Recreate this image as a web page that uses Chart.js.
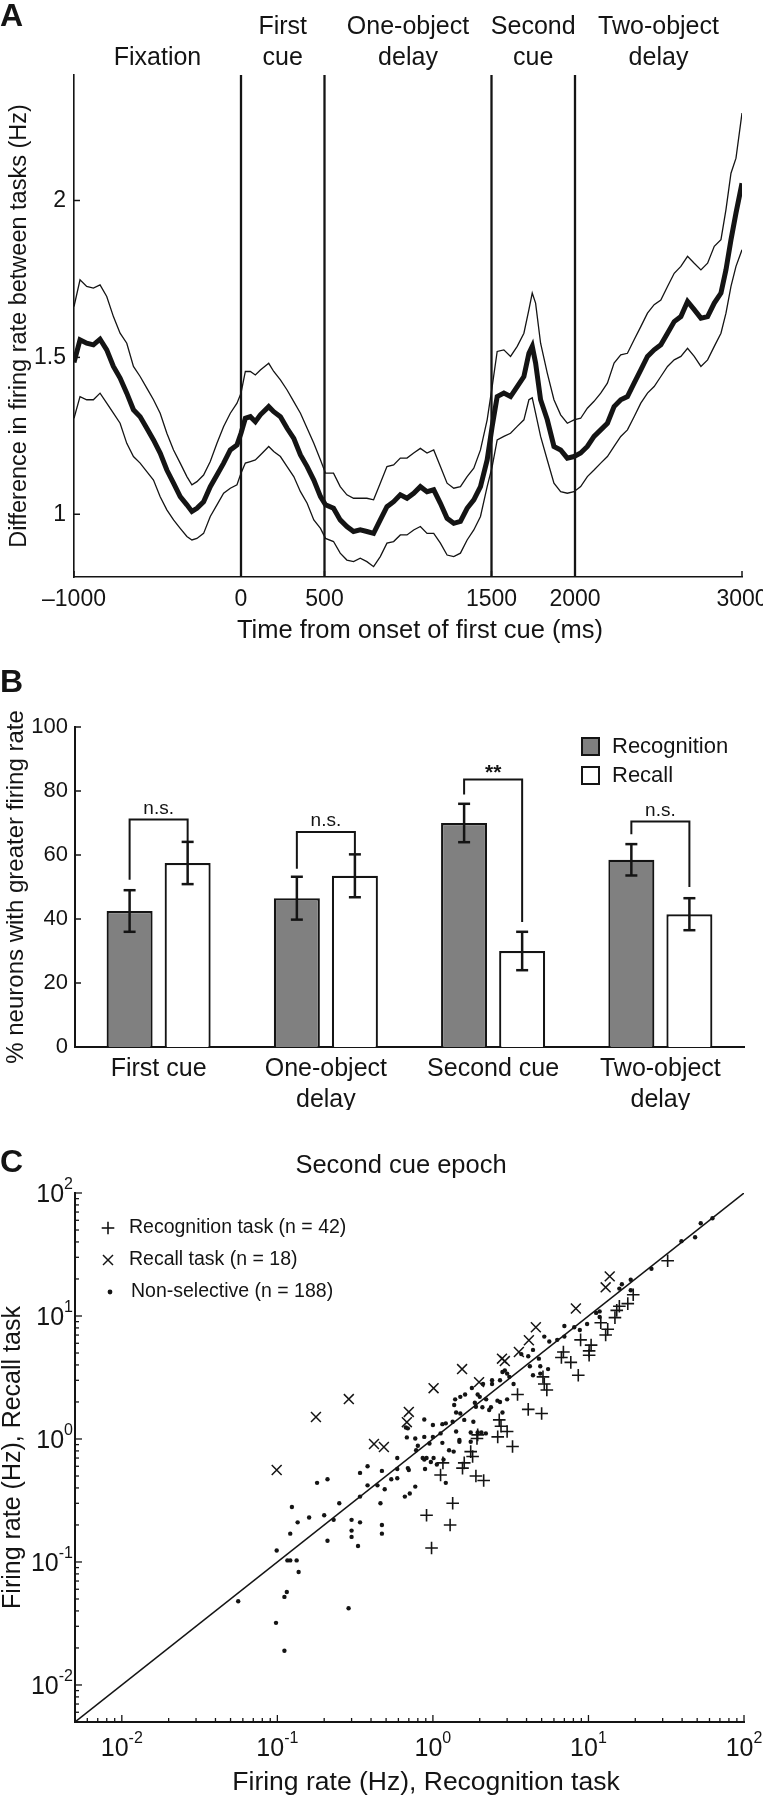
<!DOCTYPE html>
<html>
<head>
<meta charset="utf-8">
<script src="https://cdn.jsdelivr.net/npm/chart.js@4/dist/chart.umd.min.js"></script>
<style>
  body { margin: 0; background: #fff; }
  #page { position: relative; width: 763px; height: 1800px; }
  canvas { position: absolute; left: 0; }
</style>
</head>
<body>
<div id="page">
  <canvas id="chartA" width="763" height="650" style="top:0"></canvas>
  <canvas id="chartB" width="763" height="470" style="top:640px"></canvas>
  <canvas id="chartC" width="763" height="690" style="top:1110px"></canvas>
</div>
<script>
// ---- panel A: difference in firing rate over the trial ----
const timeMs = [-1000, -964, -924, -884, -844, -804, -764, -724, -684, -644, -604, -564, -524, -484, -444, -404, -364, -324, -294, -264,
  -224, -184, -144, -104, -64, -24, 0, 26, 56, 86, 116, 166, 196, 236, 276, 316, 356, 396, 436, 476, 506,
  554, 594, 634, 674, 714, 754, 794, 834, 874, 914, 954, 994, 1034, 1074, 1114, 1154, 1194, 1234, 1274, 1314, 1354, 1394, 1434, 1474,
  1504, 1534, 1574, 1614, 1654, 1694, 1724, 1744, 1764, 1794,
  1834, 1874, 1914, 1954, 1994, 2034, 2074, 2114, 2154, 2194, 2234, 2274, 2314, 2354, 2394, 2434, 2474, 2514, 2554, 2594, 2634, 2674,
  2714, 2754, 2794, 2834, 2874, 2904, 2934, 2964, 3000];
const meanDiff = [1.484, 1.556, 1.545, 1.540, 1.558, 1.524, 1.471, 1.434, 1.386, 1.333, 1.311, 1.274, 1.237, 1.195, 1.141, 1.099, 1.056, 1.030, 1.009, 1.019,
  1.040, 1.088, 1.125, 1.163, 1.205, 1.221, 1.258, 1.306, 1.311, 1.295, 1.317, 1.343, 1.327, 1.311, 1.274, 1.242, 1.189, 1.152, 1.109, 1.056, 1.030,
  1.019, 0.982, 0.961, 0.945, 0.950, 0.945, 0.939, 0.982, 1.024, 1.040, 1.062, 1.051, 1.067, 1.088, 1.072, 1.078, 1.035, 0.987, 0.971, 0.977, 1.019, 1.046, 1.088, 1.173,
  1.280, 1.375, 1.386, 1.375, 1.407, 1.439, 1.513, 1.535, 1.482, 1.365,
  1.301, 1.216, 1.205, 1.179, 1.184, 1.195, 1.216, 1.248, 1.269, 1.290, 1.343, 1.365, 1.375, 1.418, 1.460, 1.503, 1.524, 1.540, 1.577, 1.614, 1.630, 1.678,
  1.652, 1.625, 1.630, 1.673, 1.705, 1.779, 1.875, 1.960, 2.055];
const upperDiff = [1.662, 1.747, 1.726, 1.721, 1.731, 1.694, 1.630, 1.577, 1.545, 1.471, 1.439, 1.402, 1.365, 1.322, 1.258, 1.205, 1.163, 1.120, 1.094, 1.104,
  1.125, 1.168, 1.226, 1.280, 1.322, 1.354, 1.386, 1.455, 1.455, 1.444, 1.460, 1.481, 1.455, 1.428, 1.396, 1.359, 1.322, 1.274, 1.226, 1.173, 1.131,
  1.131, 1.088, 1.062, 1.051, 1.051, 1.051, 1.046, 1.099, 1.152, 1.157, 1.179, 1.179, 1.195, 1.210, 1.195, 1.205, 1.152, 1.099, 1.083, 1.088, 1.120, 1.147, 1.205, 1.301,
  1.407, 1.519, 1.524, 1.503, 1.535, 1.577, 1.652, 1.705, 1.673, 1.545,
  1.450, 1.365, 1.317, 1.290, 1.301, 1.306, 1.338, 1.360, 1.386, 1.418, 1.482, 1.508, 1.513, 1.556, 1.598, 1.641, 1.668, 1.683, 1.726, 1.768, 1.790, 1.822,
  1.800, 1.779, 1.800, 1.854, 1.875, 1.971, 2.087, 2.135, 2.279];
const lowerDiff = [1.306, 1.375, 1.365, 1.365, 1.386, 1.354, 1.322, 1.290, 1.226, 1.184, 1.163, 1.136, 1.109, 1.056, 1.014, 0.982, 0.955, 0.929, 0.918, 0.923,
  0.939, 0.993, 1.030, 1.067, 1.083, 1.094, 1.131, 1.163, 1.168, 1.173, 1.189, 1.216, 1.200, 1.184, 1.152, 1.120, 1.072, 1.035, 0.982, 0.955, 0.923,
  0.913, 0.876, 0.854, 0.849, 0.860, 0.849, 0.833, 0.865, 0.908, 0.913, 0.934, 0.934, 0.950, 0.961, 0.939, 0.939, 0.908, 0.870, 0.865, 0.876, 0.918, 0.950, 0.993, 1.088,
  1.152, 1.237, 1.248, 1.258, 1.280, 1.301, 1.365, 1.371, 1.322, 1.248,
  1.173, 1.099, 1.072, 1.067, 1.072, 1.088, 1.120, 1.141, 1.163, 1.184, 1.216, 1.248, 1.269, 1.311, 1.354, 1.386, 1.407, 1.439, 1.471, 1.492, 1.503, 1.529,
  1.503, 1.471, 1.492, 1.535, 1.577, 1.641, 1.726, 1.790, 1.843];
const epochBounds = [0, 500, 1500, 2000];
const epochNames = [['Fixation'], ['First', 'cue'], ['One-object', 'delay'], ['Second', 'cue'], ['Two-object', 'delay']];
const epochCenters = [-500, 250, 1000, 1750, 2500];
const timeTicks = [-1000, 0, 500, 1500, 2000, 3000];
const diffTicks = [1, 1.5, 2];

// ---- panel B: % neurons preferring each task ----
const epochLabels = ['First cue', ['One-object', 'delay'], 'Second cue', ['Two-object', 'delay']];
const recognitionPct = [42.5, 46.5, 70, 58.5];
const recallPct = [57.5, 53.5, 30, 41.5];
const recognitionErr = [6.5, 6.7, 6, 4.9];
const recallErr = [6.6, 6.7, 6, 5];
const bracketLeft = [52.3, 55.7, 78.9, 66.5];
const bracketRight = [64.2, 60.2, 39.1, 50];
const bracketTop = [71.1, 67.2, 83.6, 70.5];
const bracketText = ['n.s.', 'n.s.', '**', 'n.s.'];

// ---- panel C: firing rates, second cue epoch ----
const recogPts = [[32.3, 28.1], [19.4, 14.9], [17.9, 12.6], [15.8, 12.0], [15.2, 11.1], [14.8, 9.7], [13.3, 7.8], [12.0, 8.8], [8.9, 6.4], [6.9, 5.1],
  [6.7, 4.6], [10.1, 5.2], [10.1, 4.8], [8.6, 3.3], [5.2, 2.8], [5.4, 2.5], [5.1, 3.2], [3.5, 2.3], [4.1, 1.74], [5.0, 1.61],
  [2.67, 1.43], [2.74, 1.27], [3.0, 1.15], [2.61, 1.04], [3.25, 0.87], [1.94, 1.08], [1.92, 1.01], [1.75, 0.79], [1.59, 0.64], [1.55, 0.58],
  [1.80, 0.72], [1.16, 0.64], [1.12, 0.51], [1.89, 0.50], [2.12, 0.46], [1.34, 0.30], [0.91, 0.24], [1.29, 0.20], [0.98, 0.13], [10.4, 5.8],
  [12.9, 7.0], [7.7, 4.2]];
const recallPts = [[0.099, 0.56], [0.177, 1.51], [0.288, 2.11], [0.418, 0.91], [0.484, 0.86], [0.70, 1.66], [0.68, 1.37], [1.01, 2.59], [1.54, 3.7],
  [1.98, 2.9], [2.78, 4.5], [2.9, 4.3], [3.57, 5.1], [4.14, 6.35], [4.59, 8.1], [8.3, 11.5], [12.9, 17.1], [13.7, 21]];
const nonselPts = [[62.7, 62.3], [52.7, 56.8], [48.5, 43.7], [39.6, 40.6], [25.4, 24.2], [18.7, 19.7], [16.4, 18.1], [15.8, 16.7], [18.7, 16.2], [11.8, 10.9],
  [11.2, 10.6], [11.8, 9.8], [9.8, 8.6], [8.8, 7.7], [8.1, 8.1], [7.0, 8.3], [7.0, 6.8], [6.3, 6.4], [5.6, 6.2], [5.2, 6.8],
  [4.4, 5.3], [4.1, 4.7], [3.7, 4.9], [4.8, 4.5], [4.9, 3.9], [5.5, 3.7], [4.9, 3.4], [4.4, 3.3], [4.2, 3.9], [2.9, 3.6],
  [3.0, 3.4], [3.1, 3.2], [3.3, 2.8], [2.7, 3.0], [2.4, 2.8], [2.1, 2.8], [1.78, 2.6], [1.61, 2.3], [1.50, 2.2], [1.39, 2.1],
  [1.94, 2.3], [2.0, 2.2], [2.2, 2.1], [1.86, 1.97], [2.7, 2.0], [3.0, 2.1], [2.6, 2.05], [2.8, 3.5], [2.4, 3.0],
  [2.36, 1.81], [1.89, 1.83], [1.37, 1.89], [1.41, 1.64], [1.5, 1.61], [1.59, 1.43], [1.82, 1.38], [2.08, 1.81], [2.3, 1.72], [2.8, 1.64],
  [1.34, 1.38], [1.21, 1.34], [1.15, 1.32], [1.41, 1.15], [1.48, 0.98], [1.75, 1.13], [1.94, 1.13], [2.05, 1.13], [2.19, 1.11], [1.75, 0.95],
  [0.88, 1.44], [1.0, 1.30], [1.12, 1.11], [1.0, 1.04], [0.88, 1.04], [0.80, 0.88], [0.95, 0.92], [1.15, 0.93], [1.27, 0.81], [1.36, 0.79],
  [1.48, 0.95], [0.67, 1.24], [0.69, 1.22], [0.68, 1.03], [0.86, 0.70], [0.88, 0.68], [0.91, 0.70], [0.78, 0.81], [1.01, 0.70], [0.97, 0.65],
  [0.89, 0.57], [1.06, 0.62], [1.17, 0.68], [1.21, 0.44], [0.69, 0.58], [0.70, 0.56], [0.59, 0.70], [0.59, 0.57], [0.54, 0.47], [0.47, 0.55],
  [0.49, 0.39], [0.44, 0.42], [0.38, 0.42], [0.34, 0.53], [0.38, 0.60], [0.34, 0.34], [0.46, 0.30], [0.47, 0.20], [0.66, 0.34], [0.71, 0.36],
  [0.77, 0.41], [0.25, 0.30], [0.30, 0.22], [0.34, 0.21], [0.21, 0.47], [0.18, 0.44], [0.20, 0.24], [0.16, 0.23], [0.124, 0.28], [0.135, 0.21],
  [0.23, 0.22], [0.59, 0.48], [0.77, 1.01],
  [0.30, 0.18], [0.30, 0.16], [0.33, 0.135], [0.47, 0.17], [0.21, 0.149], [0.121, 0.17], [0.099, 0.124], [0.116, 0.103], [0.121, 0.103], [0.133, 0.103],
  [0.137, 0.083], [0.115, 0.057], [0.111, 0.052], [0.056, 0.048], [0.098, 0.032], [0.111, 0.019], [0.287, 0.042]];
const identityLine = [0.005, 100];
const logMajor = [0.01, 0.1, 1, 10, 100];
const logExp = ['-2', '-1', '0', '1', '2'];
const legendC = ['Recognition task (n = 42)', 'Recall task (n = 18)', 'Non-selective (n = 188)'];

const ink = '#141414';
const FONT = '"Liberation Sans", Arial, Helvetica, sans-serif';
Chart.defaults.font.family = FONT;
Chart.defaults.color = ink;

function seg(ctx, x1, y1, x2, y2) {
  ctx.beginPath();
  ctx.moveTo(x1, y1);
  ctx.lineTo(x2, y2);
  ctx.stroke();
}

function noPad(s) { s.paddingLeft = 0; s.paddingRight = 0; s.paddingTop = 0; s.paddingBottom = 0; }

// ================= A =================
const toXY = (ys) => timeMs.map((t, i) => ({ x: t, y: ys[i] }));

const panelA = {
  id: 'panelA',
  beforeDatasetsDraw(chart) {
    const { ctx, chartArea, scales: { x } } = chart;
    ctx.save();
    ctx.strokeStyle = ink;
    ctx.lineWidth = 2.3;
    epochBounds.forEach(b => {
      const px = x.getPixelForValue(b);
      seg(ctx, px, chartArea.top, px, chartArea.bottom);
    });
    ctx.restore();
  },
  afterDraw(chart) {
    const { ctx, chartArea, scales: { x, y } } = chart;
    ctx.save();
    ctx.fillStyle = ink;
    ctx.font = '25px ' + FONT;
    ctx.textAlign = 'center';
    ctx.textBaseline = 'middle';
    epochNames.forEach((lines, i) => {
      const px = x.getPixelForValue(epochCenters[i]);
      const ys = lines.length === 2 ? [27, 58] : [58];
      lines.forEach((t, k) => ctx.fillText(t, px, ys[k]));
    });
    ctx.font = '25.5px ' + FONT;
    ctx.fillText('Time from onset of first cue (ms)', 420, 631);
    ctx.strokeStyle = ink;
    ctx.lineWidth = 1.5;
    y.ticks.forEach(t => {
      const py = y.getPixelForValue(t.value);
      seg(ctx, chartArea.left, py, chartArea.left + 6, py);
    });
    x.ticks.forEach(t => {
      const px = x.getPixelForValue(t.value);
      seg(ctx, px, chartArea.bottom, px, chartArea.bottom - 6);
    });
    ctx.font = 'bold 32px ' + FONT;
    ctx.textAlign = 'left';
    ctx.fillText('A', 0, 17);
    ctx.restore();
  }
};

new Chart(document.getElementById('chartA'), {
  type: 'line',
  data: {
    datasets: [
      { data: toXY(meanDiff), borderColor: ink, borderWidth: 5, pointRadius: 0, tension: 0 },
      { data: toXY(upperDiff), borderColor: ink, borderWidth: 1.3, pointRadius: 0, tension: 0 },
      { data: toXY(lowerDiff), borderColor: ink, borderWidth: 1.3, pointRadius: 0, tension: 0 }
    ]
  },
  options: {
    responsive: false,
    animation: false,
    layout: { padding: { top: 75, right: 21, left: 0, bottom: 0 } },
    plugins: { legend: { display: false }, tooltip: { enabled: false } },
    scales: {
      x: {
        type: 'linear', min: -1000, max: 3000,
        afterBuildTicks: s => { s.ticks = timeTicks.map(v => ({ value: v })); },
        afterFit: s => { s.height = 73; noPad(s); },
        ticks: {
          callback: v => v < 0 ? '\u2013' + Math.abs(v) : String(v),
          font: { size: 23 }, color: ink, padding: 9, maxRotation: 0, autoSkip: false
        },
        grid: { display: false, drawTicks: false },
        border: { color: ink, width: 1.6 }
      },
      y: {
        min: 0.8, max: 2.4,
        afterBuildTicks: s => { s.ticks = diffTicks.map(v => ({ value: v })); },
        afterFit: s => { s.width = 74; noPad(s); },
        ticks: { callback: v => String(v), font: { size: 23 }, color: ink, padding: 8 },
        grid: { display: false, drawTicks: false },
        border: { color: ink, width: 1.6 },
        title: { display: true, text: 'Difference in firing rate between tasks (Hz)', font: { size: 23.5, lineHeight: 1 }, color: ink, padding: { top: 8, bottom: 0 } }
      }
    }
  },
  plugins: [panelA]
});

// ================= B =================
const panelB = {
  id: 'panelB',
  afterDatasetsDraw(chart) {
    const { ctx, scales: { y } } = chart;
    const recMeta = chart.getDatasetMeta(0).data;
    const calMeta = chart.getDatasetMeta(1).data;
    ctx.save();
    ctx.strokeStyle = ink;
    ctx.fillStyle = ink;
    // error bars
    ctx.lineWidth = 2.5;
    [[recMeta, recognitionPct, recognitionErr], [calMeta, recallPct, recallErr]].forEach(([meta, vals, errs]) => {
      meta.forEach((bar, i) => {
        const yt = y.getPixelForValue(vals[i] + errs[i]);
        const yb = y.getPixelForValue(vals[i] - errs[i]);
        seg(ctx, bar.x, yt, bar.x, yb);
        seg(ctx, bar.x - 6, yt, bar.x + 6, yt);
        seg(ctx, bar.x - 6, yb, bar.x + 6, yb);
      });
    });
    // significance brackets
    ctx.lineWidth = 2;
    ctx.textAlign = 'center';
    ctx.textBaseline = 'middle';
    recMeta.forEach((bar, i) => {
      const xl = bar.x, xr = calMeta[i].x;
      const yTop = y.getPixelForValue(bracketTop[i]);
      ctx.beginPath();
      ctx.moveTo(xl, y.getPixelForValue(bracketLeft[i]));
      ctx.lineTo(xl, yTop);
      ctx.lineTo(xr, yTop);
      ctx.lineTo(xr, y.getPixelForValue(bracketRight[i]));
      ctx.stroke();
      const star = bracketText[i] === '**';
      ctx.font = (star ? 'bold 21px ' : '19px ') + FONT;
      ctx.fillText(bracketText[i], (xl + xr) / 2, yTop - (star ? 6 : 11));
    });
    ctx.restore();
  },
  afterDraw(chart) {
    const { ctx, chartArea, scales: { y } } = chart;
    ctx.save();
    ctx.strokeStyle = ink;
    ctx.lineWidth = 1.5;
    y.ticks.forEach(t => {
      const py = y.getPixelForValue(t.value);
      seg(ctx, chartArea.left, py, chartArea.left + 6, py);
    });
    // legend
    const items = [['Recognition', '#808080'], ['Recall', '#ffffff']];
    ctx.font = '22px ' + FONT;
    ctx.textAlign = 'left';
    ctx.textBaseline = 'middle';
    items.forEach(([name, fill], i) => {
      const top = 98 + i * 29;
      ctx.fillStyle = fill;
      ctx.fillRect(582, top, 17, 17);
      ctx.lineWidth = 2;
      ctx.strokeRect(582, top, 17, 17);
      ctx.fillStyle = ink;
      ctx.fillText(name, 612, top + 9);
    });
    ctx.font = 'bold 32px ' + FONT;
    ctx.fillText('B', 0, 43);
    ctx.restore();
  }
};

new Chart(document.getElementById('chartB'), {
  type: 'bar',
  data: {
    labels: epochLabels,
    datasets: [
      { label: 'Recognition', data: recognitionPct, backgroundColor: '#808080', borderColor: ink, borderWidth: 2.2,
        categoryPercentage: 0.694, barPercentage: 0.793 },
      { label: 'Recall', data: recallPct, backgroundColor: '#ffffff', borderColor: ink, borderWidth: 2.2,
        categoryPercentage: 0.694, barPercentage: 0.793 }
    ]
  },
  options: {
    responsive: false,
    animation: false,
    layout: { padding: { top: 87, right: 19, left: 0, bottom: 0 } },
    plugins: { legend: { display: false }, tooltip: { enabled: false } },
    scales: {
      x: {
        afterFit: s => { s.height = 63; noPad(s); },
        ticks: { font: { size: 25, lineHeight: 1.24 }, color: ink, padding: 7, maxRotation: 0, autoSkip: false },
        grid: { display: false, drawTicks: false },
        border: { color: ink, width: 2 }
      },
      y: {
        min: 0, max: 100,
        afterFit: s => { s.width = 75; noPad(s); },
        ticks: { stepSize: 20, font: { size: 22 }, color: ink, padding: 7 },
        grid: { display: false, drawTicks: false },
        border: { color: ink, width: 2 },
        title: { display: true, text: '% neurons with greater firing rate', font: { size: 24, lineHeight: 1 }, color: ink, padding: { top: 4, bottom: 0 } }
      }
    }
  },
  plugins: [panelB]
});

// ================= C =================
const logTickVals = [];
for (let e = -3; e <= 2; e++) {
  for (let m = 1; m <= 9; m++) {
    const v = +(m * Math.pow(10, e)).toPrecision(3);
    if (v >= 0.005 && v <= 100) logTickVals.push(v);
  }
}

function drawPow(ctx, exp, x, y, align) {
  ctx.font = '25px ' + FONT;
  const wb = ctx.measureText('10').width;
  ctx.font = '16px ' + FONT;
  const we = ctx.measureText(exp).width;
  const left = align === 'center' ? x - (wb + we) / 2 : x - (wb + we);
  ctx.textAlign = 'left';
  ctx.textBaseline = 'middle';
  ctx.font = '25px ' + FONT;
  ctx.fillText('10', left, y);
  ctx.font = '16px ' + FONT;
  ctx.fillText(exp, left + wb, y - 10);
}

const panelC = {
  id: 'panelC',
  afterDraw(chart) {
    const { ctx, chartArea, scales: { x, y } } = chart;
    ctx.save();
    ctx.strokeStyle = ink;
    ctx.fillStyle = ink;
    ctx.lineWidth = 1.3;
    const isMajor = v => logMajor.some(m => Math.abs(m - v) < 1e-9);
    logTickVals.forEach(v => {
      const len = isMajor(v) ? 7 : 4;
      const px = x.getPixelForValue(v);
      seg(ctx, px, chartArea.bottom, px, chartArea.bottom - len);
      const py = y.getPixelForValue(v);
      seg(ctx, chartArea.left, py, chartArea.left + len, py);
    });
    logMajor.forEach((v, i) => {
      drawPow(ctx, logExp[i], x.getPixelForValue(v), chartArea.bottom + 27, 'center');
      drawPow(ctx, logExp[i], chartArea.left - 2, y.getPixelForValue(v) + 2, 'right');
    });
    // legend
    const lx = 108;
    const rows = [118, 150, 182];
    ctx.lineWidth = 1.6;
    seg(ctx, lx - 6.3, rows[0], lx + 6.3, rows[0]);
    seg(ctx, lx, rows[0] - 6.3, lx, rows[0] + 6.3);
    ctx.lineWidth = 1.5;
    seg(ctx, lx - 5, rows[1] - 5, lx + 5, rows[1] + 5);
    seg(ctx, lx - 5, rows[1] + 5, lx + 5, rows[1] - 5);
    ctx.beginPath();
    ctx.arc(lx + 2, rows[2], 2.4, 0, Math.PI * 2);
    ctx.fill();
    ctx.font = '19.5px ' + FONT;
    ctx.textAlign = 'left';
    ctx.textBaseline = 'middle';
    legendC.forEach((t, i) => ctx.fillText(t, i === 2 ? 131 : 129, rows[i]));
    // titles
    ctx.textAlign = 'center';
    ctx.font = '25.5px ' + FONT;
    ctx.fillText('Second cue epoch', 401, 56);
    ctx.font = '26.5px ' + FONT;
    ctx.fillText('Firing rate (Hz), Recognition task', 426, 673);
    ctx.font = 'bold 32px ' + FONT;
    ctx.textAlign = 'left';
    ctx.fillText('C', 0, 53);
    ctx.restore();
  }
};

const toPts = arr => arr.map(p => ({ x: p[0], y: p[1] }));

new Chart(document.getElementById('chartC'), {
  type: 'scatter',
  data: {
    datasets: [
      { label: 'Recognition task', data: toPts(recogPts), pointStyle: 'cross', pointRadius: 6.3, borderColor: ink, borderWidth: 1.6 },
      { label: 'Recall task', data: toPts(recallPts), pointStyle: 'crossRot', pointRadius: 7, borderColor: ink, borderWidth: 1.5 },
      { label: 'Non-selective', data: toPts(nonselPts), pointStyle: 'circle', pointRadius: 2.2, backgroundColor: ink, borderWidth: 0 },
      { label: 'identity', data: identityLine.map(v => ({ x: v, y: v })), showLine: true, pointRadius: 0, borderColor: ink, borderWidth: 1.5 }
    ]
  },
  options: {
    responsive: false,
    animation: false,
    layout: { padding: { top: 83, right: 19, left: 0, bottom: 0 } },
    plugins: { legend: { display: false }, tooltip: { enabled: false } },
    scales: {
      x: {
        type: 'logarithmic', min: 0.005, max: 100,
        afterBuildTicks: s => { s.ticks = logTickVals.map(v => ({ value: v })); },
        afterFit: s => { s.height = 78; noPad(s); },
        ticks: { callback: () => '', autoSkip: false },
        grid: { display: false, drawTicks: false },
        border: { color: ink, width: 2 }
      },
      y: {
        type: 'logarithmic', min: 0.005, max: 100,
        afterBuildTicks: s => { s.ticks = logTickVals.map(v => ({ value: v })); },
        afterFit: s => { s.width = 75; noPad(s); },
        ticks: { callback: () => '', autoSkip: false },
        grid: { display: false, drawTicks: false },
        border: { color: ink, width: 2 },
        title: { display: true, text: 'Firing rate (Hz), Recall task', font: { size: 25, lineHeight: 1 }, color: ink, padding: { top: 1, bottom: 0 } }
      }
    }
  },
  plugins: [panelC]
});
</script>
</body>
</html>
